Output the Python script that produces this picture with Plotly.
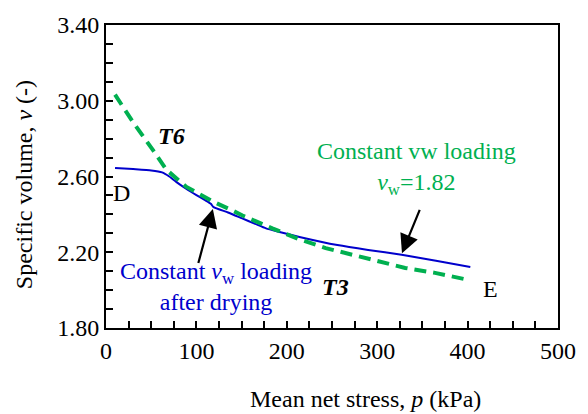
import plotly.graph_objects as go

# Data
blue_p = [10, 30, 50, 62, 70, 78, 89, 100, 110, 116, 119, 135, 150, 165, 177, 192, 214, 256, 290, 327, 365, 403]
blue_v = [2.645, 2.639, 2.632, 2.622, 2.600, 2.570, 2.534, 2.502, 2.474, 2.456, 2.438, 2.410, 2.380, 2.350, 2.326, 2.307, 2.281, 2.238, 2.212, 2.187, 2.155, 2.122]

green_p = [10, 30, 52, 67, 89, 118, 140, 151, 184, 212, 243, 272, 302, 331, 364, 400]
green_v = [3.032, 2.886, 2.739, 2.635, 2.545, 2.468, 2.420, 2.394, 2.326, 2.272, 2.222, 2.187, 2.152, 2.117, 2.091, 2.055]

x_ticks = [0, 100, 200, 300, 400, 500]
y_ticks = [1.80, 2.20, 2.60, 3.00, 3.40]

FONT = "Liberation Serif"
GREEN = "#00B050"
BLUE = "#0000CC"
FS = 24

fig = go.Figure()
fig.add_trace(go.Scatter(x=blue_p, y=blue_v, mode="lines",
                         line=dict(color=BLUE, width=2, shape="spline", smoothing=0.5), showlegend=False))
fig.add_trace(go.Scatter(x=green_p, y=green_v, mode="lines",
                         line=dict(color=GREEN, width=4, dash="12px,7px"), showlegend=False))

ann = []
def txt(x, y, s, color="black", size=FS, **kw):
    ann.append(dict(x=x, y=y, xref="x", yref="y", text=s, showarrow=False,
                    xanchor="center", yanchor="middle",
                    font=dict(family=FONT, size=size, color=color), **kw))

txt(72.4, 2.816, "<b><i>T6</i></b>")
txt(254, 2.014, "<b><i>T3</i></b>")
txt(17.3, 2.514, "D")
txt(424.8, 2.005, "E")
txt(343, 2.64, "Constant vw loading<br><i>v</i><sub>w</sub>=1.82", color=GREEN)
txt(122.2, 2.018, "Constant <i>v</i><sub>w</sub> loading<br>after drying", color=BLUE)

# arrows
ann.append(dict(x=118.2, y=2.428, ax=101.7, ay=2.135, xref="x", yref="y", axref="x", ayref="y",
                showarrow=True, arrowhead=2, arrowsize=1.7, arrowwidth=2.2, arrowcolor="black", text=""))
ann.append(dict(x=327.4, y=2.195, ax=347.7, ay=2.432, xref="x", yref="y", axref="x", ayref="y",
                showarrow=True, arrowhead=2, arrowsize=1.7, arrowwidth=2.2, arrowcolor="black", text=""))

# axis titles
ann.append(dict(x=0.574, y=-0.233, xref="paper", yref="paper", showarrow=False,
                xanchor="center", yanchor="middle",
                text="Mean net stress, <i>p</i> (kPa)", font=dict(family=FONT, size=FS, color="black")))
ann.append(dict(x=-0.181, y=0.472, xref="paper", yref="paper", showarrow=False, textangle=-90,
                xanchor="center", yanchor="middle",
                text="Specific volume, <i>v</i> (-)", font=dict(family=FONT, size=FS, color="black")))

fig.update_layout(
    width=588, height=414,
    margin=dict(l=106, r=28, t=19, b=86),
    paper_bgcolor="white", plot_bgcolor="white",
    font=dict(family=FONT, size=FS, color="black"),
    annotations=ann,
    xaxis=dict(range=[0, 500], tickvals=x_ticks, ticktext=[str(v) for v in x_ticks],
               ticks="inside", ticklen=7, tickwidth=1.5, tickcolor="black",
               minor=dict(dtick=25, ticks="inside", ticklen=7, tickwidth=1.5, tickcolor="black"),
               showline=True, linecolor="black", linewidth=2, mirror=True,
               showgrid=False, zeroline=False, tickfont=dict(family=FONT, size=FS)),
    yaxis=dict(range=[1.8, 3.4], tickvals=y_ticks, ticktext=[f"{v:.2f}" for v in y_ticks],
               ticks="inside", ticklen=7, tickwidth=1.5, tickcolor="black",
               minor=dict(dtick=0.1, ticks="inside", ticklen=7, tickwidth=1.5, tickcolor="black"),
               showline=True, linecolor="black", linewidth=2, mirror=True,
               showgrid=False, zeroline=False, tickfont=dict(family=FONT, size=FS)),
)

fig.write_html("out.html")
